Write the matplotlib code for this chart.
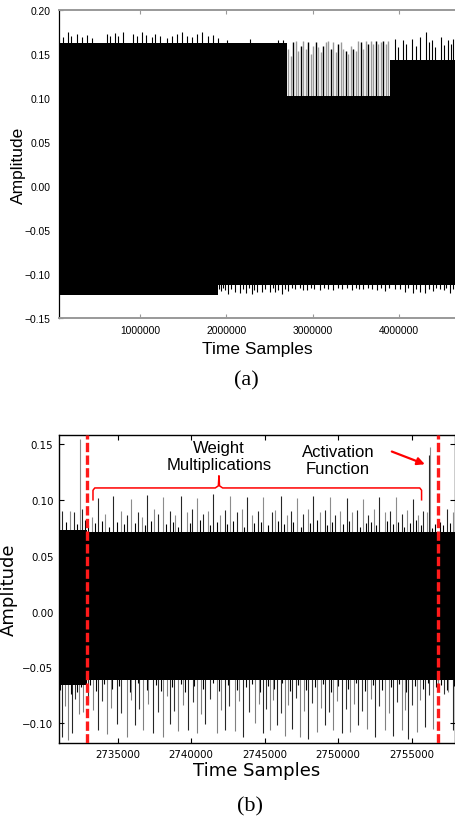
"""
Power trace of a neural-network inference run.

Panel (a) shows the whole capture, panel (b) zooms in on one neuron
(weight multiplications followed by the activation function).
"""

import matplotlib.pyplot as plt
from matplotlib.ticker import FuncFormatter

plt.rcParams["font.family"] = ["Liberation Sans", "DejaVu Sans"]

# ---------------------------------------------------------------- panel (a)
# solid band of the trace, one value per segment between the edges
A_SEG_EDGES = [0, 1907000, 2699000, 3896000, 4700000]
A_CORE_HI = [0.163, 0.163, 0.1026, 0.143]
A_CORE_LO = [-0.1235, -0.112, -0.112, -0.112]

# peaks sticking out above the band
A_UP_X = [111500, 169500, 200700, 266800, 324700, 389500, 440500, 621200,
          652500, 710400, 748600, 806500, 922400, 961700, 1019600, 1066000,
          1135500, 1173700, 1231600, 1309200, 1367100, 1425100, 1483000,
          1540900, 1598800, 1656700, 1714600, 1791100, 1849000, 1906900,
          2004000, 2274000, 2602000, 2660000,
          3953600, 3984900, 4042800, 4081000, 4147000, 4196900, 4243200,
          4312700, 4350900, 4385700, 4417000, 4483000, 4521200, 4564100,
          4598800, 4628900]
A_UP_Y = [0.169, 0.1747, 0.1708, 0.1727, 0.169, 0.1716, 0.1678, 0.1727,
          0.1708, 0.1739, 0.170, 0.1747, 0.1727, 0.170, 0.1747, 0.1716,
          0.169, 0.1727, 0.170, 0.1678, 0.1708, 0.1727, 0.1747, 0.170,
          0.169, 0.1727, 0.1747, 0.170, 0.1716, 0.1678,
          0.1655, 0.167, 0.166, 0.1655,
          0.167, 0.1583, 0.1655, 0.1617, 0.167, 0.1595, 0.1693, 0.1747,
          0.1636, 0.1655, 0.1583, 0.1693, 0.160, 0.1655, 0.1617, 0.167]

# separated pulses of the middle section
A_PULSE_X = [2718100, 2745200, 2776000, 2806900, 2833900, 2864800, 2891800,
             2922700, 2949800, 2976800, 3007700, 3038600, 3065600, 3096500,
             3123500, 3154400, 3181400, 3208500, 3239300, 3270200, 3297200,
             3324300, 3355200, 3386000, 3413000, 3440100, 3471000, 3501900,
             3528900, 3555900, 3586800, 3613900, 3644700, 3671800, 3702700,
             3729700, 3760600, 3787600, 3818500, 3845500, 3876400]
A_PULSE_Y = [0.1557, 0.148, 0.1633, 0.1652, 0.1538, 0.1595, 0.1652, 0.1557,
             0.1633, 0.150, 0.1595, 0.1633, 0.1576, 0.1519, 0.1595, 0.1633,
             0.1652, 0.1557, 0.1633, 0.1519, 0.1614, 0.1633, 0.1557, 0.1538,
             0.150, 0.1595, 0.1557, 0.1538, 0.1652, 0.1633, 0.1557, 0.1652,
             0.1614, 0.1652, 0.1614, 0.1652, 0.1614, 0.1633, 0.1652, 0.1614,
             0.1652]

# dips below the band (second half of the capture)
A_DN_X = [1910000, 1940000, 1965000, 1990000, 2022900, 2060000, 2100400,
          2158300, 2190000, 2227800, 2260000, 2293800, 2320000, 2351700,
          2409600, 2450000, 2505700, 2540000, 2563700, 2600000, 2641300,
          2680000, 2717700, 2760000, 2800000, 2850000, 2890000, 2930900,
          2980000, 3020000, 3084900, 3130000, 3180000, 3239000, 3290000,
          3340000, 3400000, 3452200, 3500000, 3540000, 3586400, 3640000,
          3690000, 3741600, 3790000, 3837800, 3890000, 3950000, 4011500,
          4069500, 4110000, 4158600, 4200000, 4243200, 4301100, 4350000,
          4397200, 4430000, 4474800, 4520000, 4550000, 4590600, 4630000]
A_DN_Y = [-0.117, -0.119, -0.116, -0.118, -0.1227, -0.117, -0.1208,
          -0.122, -0.117, -0.122, -0.116, -0.1227, -0.118, -0.1201,
          -0.1208, -0.117, -0.1201, -0.116, -0.1208, -0.118, -0.1227,
          -0.117, -0.119, -0.116, -0.117, -0.116, -0.118, -0.1182,
          -0.116, -0.117, -0.1178, -0.116, -0.117, -0.1178, -0.116,
          -0.117, -0.116, -0.1178, -0.116, -0.117, -0.117, -0.116,
          -0.117, -0.1178, -0.116, -0.119, -0.116, -0.117, -0.117,
          -0.1208, -0.116, -0.122, -0.117, -0.1201, -0.122, -0.117,
          -0.119, -0.116, -0.117, -0.118, -0.116, -0.122, -0.117]

A_XTICKS = [1000000, 2000000, 3000000, 4000000]
A_YTICKS = [-0.15, -0.10, -0.05, 0.00, 0.05, 0.10, 0.15, 0.20]

# ---------------------------------------------------------------- panel (b)
B_T0 = 2731000  # sample offsets below are relative to this
B_CORE_EDGES = [0, 1900, 27000]
B_CORE_HI = [0.073, 0.071]
B_CORE_LO = [-0.066, -0.061]

B_UP_DX = [184, 748, 1041, 1429, 1544, 2225, 2633, 3129, 3700, 4218, 4606,
           4905, 5395, 5667, 5973, 6483, 6755, 7102, 7551, 7891, 8306, 8687,
           9027, 9374, 9817, 10116, 10504, 10953, 11293, 11640, 12089, 12429,
           12776, 13110, 13559, 13905, 14470, 14694, 15089, 15490, 15762,
           16177, 16620, 16960, 17307, 17756, 18096, 18443, 18776, 19116,
           19579, 19912, 20293, 20708, 21042, 21429, 21797, 22178, 22518,
           22933, 23314, 23654, 24110, 24443, 24783, 25015, 25171, 25239,
           26375, 26824]
B_UP_Y = [0.0904, 0.0904, 0.089, 0.1545, 0.092, 0.085, 0.1015, 0.0875,
          0.1038, 0.0904, 0.086, 0.1009, 0.089, 0.0845, 0.1045, 0.092,
          0.0875, 0.1024, 0.0904, 0.086, 0.1038, 0.089, 0.092, 0.1015,
          0.0875, 0.0904, 0.1054, 0.086, 0.0913, 0.1038, 0.089, 0.092,
          0.1024, 0.086, 0.0904, 0.1024, 0.089, 0.0913, 0.1038, 0.086,
          0.0904, 0.1015, 0.0875, 0.092, 0.1033, 0.089, 0.0913, 0.1024,
          0.086, 0.0904, 0.1015, 0.089, 0.0913, 0.1009, 0.086, 0.092,
          0.1024, 0.089, 0.0904, 0.1024, 0.0875, 0.0913, 0.1009, 0.0865,
          0.0904, 0.089, 0.140, 0.1475, 0.092, 0.089]

B_UP_SHORT_DX = [450, 1250, 1800, 2000, 2450, 2900, 3400, 3950, 4450, 5200,
                 5850, 6250, 7300, 7750, 8100, 8900, 9600, 10300, 10750,
                 11450, 11850, 12600, 13300, 13750, 14250, 14900, 15300,
                 15950, 16450, 17100, 17550, 18250, 18600, 19350, 19750,
                 20500, 20900, 21250, 21600, 22350, 22750, 23100, 23500,
                 23900, 24300, 24650, 25400, 25600, 25900, 26100, 26600]
B_UP_SHORT_Y = [0.080, 0.078, 0.082, 0.077, 0.079, 0.081, 0.076, 0.080,
                0.078, 0.079, 0.077, 0.081, 0.078, 0.080, 0.076, 0.079,
                0.082, 0.077, 0.080, 0.078, 0.081, 0.076, 0.079, 0.080,
                0.077, 0.081, 0.078, 0.080, 0.076, 0.079, 0.082, 0.077,
                0.080, 0.078, 0.081, 0.076, 0.079, 0.080, 0.077, 0.081,
                0.078, 0.080, 0.076, 0.079, 0.082, 0.077, 0.075, 0.078,
                0.080, 0.077, 0.079]

B_DN_DX = [225, 633, 864, 1653, 2674, 3245, 3925, 4606, 5170, 5735, 6415,
           7096, 7551, 8116, 8796, 9368, 9932, 10728, 11293, 11973, 12538,
           13334, 13899, 14354, 14810, 15375, 15831, 16395, 16960, 17531,
           18096, 18661, 19232, 19797, 20362, 20933, 21497, 22178, 22742,
           23314, 23763, 24334, 24899, 25464, 26824]
B_DN_Y = [-0.112, -0.115, -0.109, -0.090, -0.106, -0.110, -0.101, -0.112,
          -0.102, -0.106, -0.109, -0.112, -0.101, -0.107, -0.106, -0.109,
          -0.101, -0.109, -0.106, -0.107, -0.112, -0.100, -0.109, -0.106,
          -0.102, -0.111, -0.105, -0.112, -0.114, -0.108, -0.102, -0.106,
          -0.109, -0.108, -0.102, -0.105, -0.112, -0.106, -0.111, -0.106,
          -0.114, -0.108, -0.103, -0.105, -0.106]

B_DN_MID_DX = [430, 1100, 1350, 1950, 2300, 2950, 3550, 4250, 4900, 5450,
               6050, 6750, 7350, 7800, 8450, 9100, 9650, 10300, 11000, 11600,
               12250, 12900, 13600, 14100, 14580, 15100, 15600, 16100, 16700,
               17250, 17800, 18380, 18950, 19500, 20080, 20650, 21200, 21800,
               22450, 23000, 23550, 24050, 24600, 25200, 25800, 26200, 26500]
B_DN_MID_Y = [-0.085, -0.078, -0.092, -0.082, -0.088, -0.080, -0.086,
              -0.091, -0.079, -0.087, -0.083, -0.090, -0.076, -0.089,
              -0.084, -0.081, -0.092, -0.078, -0.088, -0.085, -0.080,
              -0.090, -0.083, -0.087, -0.079, -0.091, -0.084, -0.077,
              -0.089, -0.082, -0.086, -0.090, -0.080, -0.087, -0.083,
              -0.089, -0.078, -0.085, -0.091, -0.081, -0.088, -0.084,
              -0.079, -0.075, -0.070, -0.074, -0.072]

B_DN_SHORT_DX = [100, 800, 1200, 1500, 2100, 2500, 3050, 3600, 4100, 4800,
                 5350, 6000, 6600, 6950, 7700, 8300, 8600, 9200, 9800, 10500,
                 10900, 11500, 12100, 12700, 13150, 13700, 14200, 14650,
                 15200, 15700, 16250, 16800, 17400, 17950, 18500, 19000,
                 19650, 20200, 20800, 21350, 21950, 22600, 23150, 23600,
                 24200, 24750, 25100, 25650, 26000, 26400, 26900]
B_DN_SHORT_Y = [-0.070, -0.074, -0.072, -0.068, -0.066, -0.071, -0.065,
                -0.069, -0.067, -0.072, -0.064, -0.070, -0.066, -0.071,
                -0.068, -0.065, -0.072, -0.067, -0.069, -0.064, -0.071,
                -0.066, -0.070, -0.068, -0.065, -0.072, -0.067, -0.069,
                -0.064, -0.071, -0.066, -0.070, -0.068, -0.065, -0.072,
                -0.067, -0.069, -0.064, -0.071, -0.066, -0.070, -0.068,
                -0.065, -0.072, -0.067, -0.069, -0.064, -0.068, -0.066,
                -0.070, -0.067]

B_MARKERS = [2732910, 2756810]   # start / end of the neuron
B_XTICKS = [2735000, 2740000, 2745000, 2750000, 2755000]
B_YTICKS = [-0.10, -0.05, 0.00, 0.05, 0.10, 0.15]


def _amp_fmt(v, _pos):
    return f"{v:.2f}".replace("-", "\u2212")


def _int_fmt(v, _pos):
    return f"{v:.0f}"


def _abs(offsets):
    return [B_T0 + d for d in offsets]


def draw_full_trace(ax):
    """Panel (a): the whole capture."""

    ax.vlines(A_UP_X, 0, A_UP_Y, colors="black", linewidth=0.8, zorder=1)
    pulse_cols = ["black" if i % 3 == 2 else "0.6" for i in range(len(A_PULSE_X))]
    ax.vlines(A_PULSE_X, 0, A_PULSE_Y, colors=pulse_cols, linewidth=1.0, zorder=1)
    ax.vlines(A_DN_X, 0, A_DN_Y, colors="black", linewidth=0.8, zorder=1)
    ax.fill_between(A_SEG_EDGES, A_CORE_LO + A_CORE_LO[-1:],
                    A_CORE_HI + A_CORE_HI[-1:], step="post",
                    color="black", linewidth=0, zorder=2)

    ax.set_xlim(62000, 4649000)
    ax.set_ylim(-0.15, 0.20)
    ax.set_xticks(A_XTICKS)
    ax.set_yticks(A_YTICKS)
    ax.xaxis.set_major_formatter(FuncFormatter(_int_fmt))
    ax.yaxis.set_major_formatter(FuncFormatter(_amp_fmt))

    ax.spines["right"].set_visible(False)
    ax.spines["left"].set_linewidth(0.9)
    for side in ("top", "bottom"):
        ax.spines[side].set_color("0.6")
        ax.spines[side].set_linewidth(1.4)
    ax.tick_params(axis="x", direction="in", length=3, width=0.8,
                   color="0.6", top=True, labelsize=7.4, pad=5)
    ax.tick_params(axis="y", direction="in", length=3, width=0.8,
                   color="black", labelsize=7.4, pad=6)

    ax.set_xlabel("Time Samples", fontsize=12.5)
    ax.set_ylabel("Amplitude", fontsize=12.5)
    ax.xaxis.set_label_coords(0.5, -0.075)
    ax.yaxis.set_label_coords(-0.083, 0.5)


def draw_neuron(ax):
    """Panel (b): zoom on one neuron with annotations."""

    ax.vlines(_abs(B_UP_SHORT_DX), 0, B_UP_SHORT_Y, colors="black",
              linewidth=0.8, zorder=1)
    ax.vlines(_abs(B_DN_SHORT_DX), 0, B_DN_SHORT_Y, colors="black",
              linewidth=0.8, zorder=1)
    up_cols = ["0.55" if i % 2 else "0.15" for i in range(len(B_UP_DX))]
    ax.vlines(_abs(B_UP_DX), 0, B_UP_Y, colors=up_cols, linewidth=0.8, zorder=1)
    mid_cols = ["0.2" if i % 2 else "0.5" for i in range(len(B_DN_MID_DX))]
    ax.vlines(_abs(B_DN_MID_DX), 0, B_DN_MID_Y, colors=mid_cols,
              linewidth=0.8, zorder=1)
    dn_cols = ["0.5" if i % 2 else "0.15" for i in range(len(B_DN_DX))]
    ax.vlines(_abs(B_DN_DX), 0, B_DN_Y, colors=dn_cols, linewidth=0.8, zorder=1)
    ax.fill_between(_abs(B_CORE_EDGES), B_CORE_LO + B_CORE_LO[-1:],
                    B_CORE_HI + B_CORE_HI[-1:], step="post",
                    color="black", linewidth=0, zorder=2)

    for x in B_MARKERS:
        ax.axvline(x, color="#ff1a1a", linewidth=2.4, dashes=(2.8, 1.0), zorder=5)

    # curly bracket over the weight multiplications
    x0, xm, x1 = 2733313, 2741885, 2755675
    ax.plot([x0, x0, x0 + 120, xm - 250, xm - 40, xm, xm + 40, xm + 250,
             x1 - 120, x1, x1],
            [0.100, 0.1085, 0.1106, 0.1106, 0.1125, 0.1215, 0.1125, 0.1106,
             0.1106, 0.1085, 0.100],
            color="red", linewidth=1.1, zorder=6)
    ax.text(xm, 0.1394, "Weight\nMultiplications", ha="center", va="center",
            fontsize=12, linespacing=1.15, zorder=6)
    ax.text(2749980, 0.1353, "Activation\nFunction", ha="center", va="center",
            fontsize=12, linespacing=1.15, zorder=6)
    ax.annotate("", xy=(2755900, 0.1318), xytext=(2753650, 0.1432),
                arrowprops=dict(arrowstyle="-|>", color="red", lw=1.6,
                                mutation_scale=11, shrinkA=0, shrinkB=0),
                zorder=6)

    ax.set_xlim(2731000, 2757950)
    ax.set_ylim(-0.1177, 0.158)
    ax.set_xticks(B_XTICKS)
    ax.set_yticks(B_YTICKS)
    ax.xaxis.set_major_formatter(FuncFormatter(_int_fmt))
    ax.yaxis.set_major_formatter(FuncFormatter(_amp_fmt))
    for side in ax.spines.values():
        side.set_linewidth(1.0)
    ax.tick_params(direction="in", length=3.5, width=0.8, top=True,
                   right=True, labelsize=7.4, pad=4)
    for lab in ax.get_xticklabels() + ax.get_yticklabels():
        lab.set_family("DejaVu Sans")

    ax.set_xlabel("Time Samples", fontsize=13, family="DejaVu Sans")
    ax.set_ylabel("Amplitude", fontsize=13, family="DejaVu Sans")
    ax.xaxis.set_label_coords(0.5, -0.058)
    ax.yaxis.set_label_coords(-0.104, 0.5)


fig = plt.figure(figsize=(4.55, 8.2), dpi=100)
ax_a = fig.add_axes([59 / 455, 1 - 319 / 820, 396 / 455, 308 / 820])
ax_b = fig.add_axes([59 / 455, 1 - 744 / 820, 396 / 455, 308 / 820])
draw_full_trace(ax_a)
draw_neuron(ax_b)

fig.text(246 / 455, 1 - 381 / 820, "(a)", ha="center", va="center",
         fontsize=16, family="Liberation Serif")
fig.text(250 / 455, 1 - 807 / 820, "(b)", ha="center", va="center",
         fontsize=16, family="Liberation Serif")

fig.savefig("out.png", dpi=100)
